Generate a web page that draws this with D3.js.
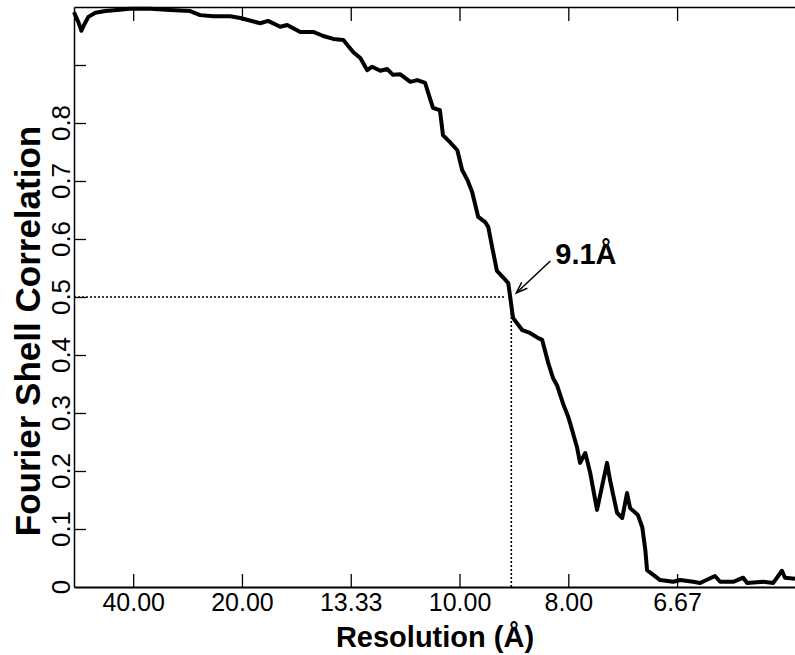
<!DOCTYPE html>
<html>
<head>
<meta charset="utf-8">
<script src="https://cdn.jsdelivr.net/npm/d3@7"></script>
<style>
	body { margin: 0; background: #fff; }
	svg { display: block; }
	text { font-family: "Liberation Sans", Arial, sans-serif; fill: #000; }
</style>
</head>
<body>
<div class="chart"></div>
<script>

// spatial frequency (1/A) and FSC
var freq = [0.0114,0.0124,0.0131,0.0137,0.0147,0.0163,0.0186,0.0213,0.0243,0.0289,
	0.0335,0.0381,0.0404,0.0434,0.0473,0.0496,0.0542,0.0560,0.0588,0.0604,
	0.0634,0.0664,0.0687,0.0710,0.0733,0.0756,0.0772,0.0788,0.0799,0.0818,
	0.0834,0.0847,0.0864,0.0887,0.0903,0.0921,0.0928,0.0939,0.0955,0.0962,
	0.0978,0.0995,0.1006,0.1018,0.1029,0.1043,0.1059,0.1066,0.1075,0.1086,
	0.1100,0.1112,0.1119,0.1123,0.1144,0.1162,0.1181,0.1190,0.1204,0.1215,
	0.1224,0.1238,0.1250,0.1254,0.1270,0.1277,0.1289,0.1300,0.1316,0.1339,
	0.1346,0.1362,0.1374,0.1385,0.1392,0.1410,0.1420,0.1427,0.1431,0.1461,
	0.1491,0.1507,0.1537,0.1553,0.1587,0.1599,0.1629,0.1652,0.1661,0.1698,
	0.1721,0.1741,0.1748,0.1771];

var fsc = [0.991,0.974,0.959,0.969,0.983,0.990,0.993,0.995,0.997,0.997,
	0.995,0.993,0.986,0.984,0.984,0.981,0.972,0.976,0.966,0.969,
	0.957,0.957,0.950,0.945,0.943,0.922,0.912,0.891,0.897,0.890,
	0.893,0.883,0.884,0.871,0.874,0.869,0.852,0.826,0.822,0.779,
	0.767,0.753,0.719,0.702,0.681,0.638,0.629,0.621,0.586,0.545,
	0.534,0.524,0.486,0.464,0.443,0.438,0.429,0.426,0.386,0.360,
	0.348,0.316,0.293,0.283,0.241,0.214,0.231,0.198,0.133,0.214,
	0.184,0.128,0.119,0.162,0.136,0.124,0.103,0.064,0.029,0.012,
	0.009,0.012,0.009,0.007,0.019,0.009,0.009,0.016,0.007,0.009,
	0.007,0.028,0.016,0.014];

var xTickValues = [1/40, 1/20, 3/40, 1/10, 1/8, 3/20];
var xTickLabels = ['40.00', '20.00', '13.33', '10.00', '8.00', '6.67'];
var yTickValues = [0.1, 0.2, 0.3, 0.4, 0.5, 0.6, 0.7, 0.8, 0.9];
var yLabelValues = [0, 0.1, 0.2, 0.3, 0.4, 0.5, 0.6, 0.7, 0.8];
var yLabelText = ['0', '0.1', '0.2', '0.3', '0.4', '0.5', '0.6', '0.7', '0.8'];

var threshold = 0.5;
var crossFreq = 0.1119;
var crossLabel = '9.1Å';

var w = 795;
var h = 655;

var svg = d3.select('.chart')
	.append('svg')
	.attr('width', w)
	.attr('height', h);

var x = d3.scaleLinear().domain([0.0114, 0.1771]).range([74, 795]);
var y = d3.scaleLinear().domain([0, 1]).range([587, 7]);

// bottom axis, ticks pointing up
var xAxis = svg.append('g')
	.attr('transform', 'translate(0,' + y(0) + ')')
	.call(d3.axisBottom(x)
		.tickValues(xTickValues)
		.tickFormat(function(d, i){ return xTickLabels[i]; })
		.tickSizeInner(-13)
		.tickSizeOuter(0)
		.tickPadding(6));
xAxis.select('.domain').attr('stroke-width', 2);
xAxis.selectAll('.tick line').attr('stroke-width', 1.3);
xAxis.selectAll('text')
	.style('font-size', '25px')
	.style('font-family', '"Liberation Sans", Arial, sans-serif');

// top border with ticks pointing down
var topAxis = svg.append('g')
	.attr('transform', 'translate(0,' + y(1) + ')')
	.call(d3.axisTop(x)
		.tickValues(xTickValues)
		.tickFormat('')
		.tickSizeInner(-14)
		.tickSizeOuter(0));
topAxis.select('.domain').attr('stroke-width', 1.5);
topAxis.selectAll('.tick line').attr('stroke-width', 1.3);

// left axis, ticks pointing right
var yAxis = svg.append('g')
	.attr('transform', 'translate(' + x.range()[0] + ',0)')
	.call(d3.axisLeft(y)
		.tickValues(yTickValues)
		.tickFormat('')
		.tickSizeInner(-12)
		.tickSizeOuter(0));
yAxis.select('.domain').attr('stroke-width', 1.5);
yAxis.selectAll('.tick line').attr('stroke-width', 1.3);

svg.selectAll('text.ylabel')
	.data(yLabelValues)
	.enter()
	.append('text')
	.attr('class', 'ylabel')
	.attr('transform', function(d){ return 'translate(70,' + y(d) + ') rotate(-90)'; })
	.attr('text-anchor', 'middle')
	.style('font-size', '26px')
	.text(function(d, i){ return yLabelText[i]; });

// dotted threshold guides
svg.append('line')
	.attr('x1', x.range()[0]).attr('x2', x(crossFreq) - 6)
	.attr('y1', y(threshold)).attr('y2', y(threshold))
	.attr('stroke', '#000')
	.attr('stroke-width', 1.6)
	.attr('stroke-dasharray', '2,2');

svg.append('line')
	.attr('x1', x(crossFreq)).attr('x2', x(crossFreq))
	.attr('y1', y(threshold)).attr('y2', y(0))
	.attr('stroke', '#000')
	.attr('stroke-width', 1.6)
	.attr('stroke-dasharray', '2,2');

// FSC curve
var pts = freq.map(function(f, i){ return [f, fsc[i]]; });
var line = d3.line()
	.x(function(d){ return x(d[0]); })
	.y(function(d){ return y(d[1]); });

svg.append('path')
	.datum(pts)
	.attr('d', line)
	.attr('fill', 'none')
	.attr('stroke', '#000')
	.attr('stroke-width', 4)
	.attr('stroke-linejoin', 'round');

// annotation arrow
var tipX = x(crossFreq) + 5, tipY = y(threshold) - 4;
var tailX = tipX + 34, tailY = tipY - 32;
var ang = Math.atan2(tipY - tailY, tipX - tailX);
svg.append('line')
	.attr('x1', tailX).attr('y1', tailY)
	.attr('x2', tipX).attr('y2', tipY)
	.attr('stroke', '#000')
	.attr('stroke-width', 1.5);
svg.append('path')
	.attr('d', 'M' + (tipX - 12 * Math.cos(ang - 0.35)) + ',' + (tipY - 12 * Math.sin(ang - 0.35)) +
		'L' + tipX + ',' + tipY +
		'L' + (tipX - 12 * Math.cos(ang + 0.35)) + ',' + (tipY - 12 * Math.sin(ang + 0.35)))
	.attr('fill', 'none')
	.attr('stroke', '#000')
	.attr('stroke-width', 1.5);

svg.append('text')
	.attr('x', tailX + 5)
	.attr('y', tailY + 3)
	.style('font-size', '29px')
	.style('font-weight', 'bold')
	.text(crossLabel);

// axis titles
svg.append('text')
	.attr('x', 435)
	.attr('y', 647)
	.attr('text-anchor', 'middle')
	.style('font-size', '29px')
	.style('font-weight', 'bold')
	.text('Resolution (Å)');

svg.append('text')
	.attr('transform', 'translate(40,331) rotate(-90)')
	.attr('text-anchor', 'middle')
	.style('font-size', '35px')
	.style('font-weight', 'bold')
	.text('Fourier Shell Correlation');

</script>
</body>
</html>
